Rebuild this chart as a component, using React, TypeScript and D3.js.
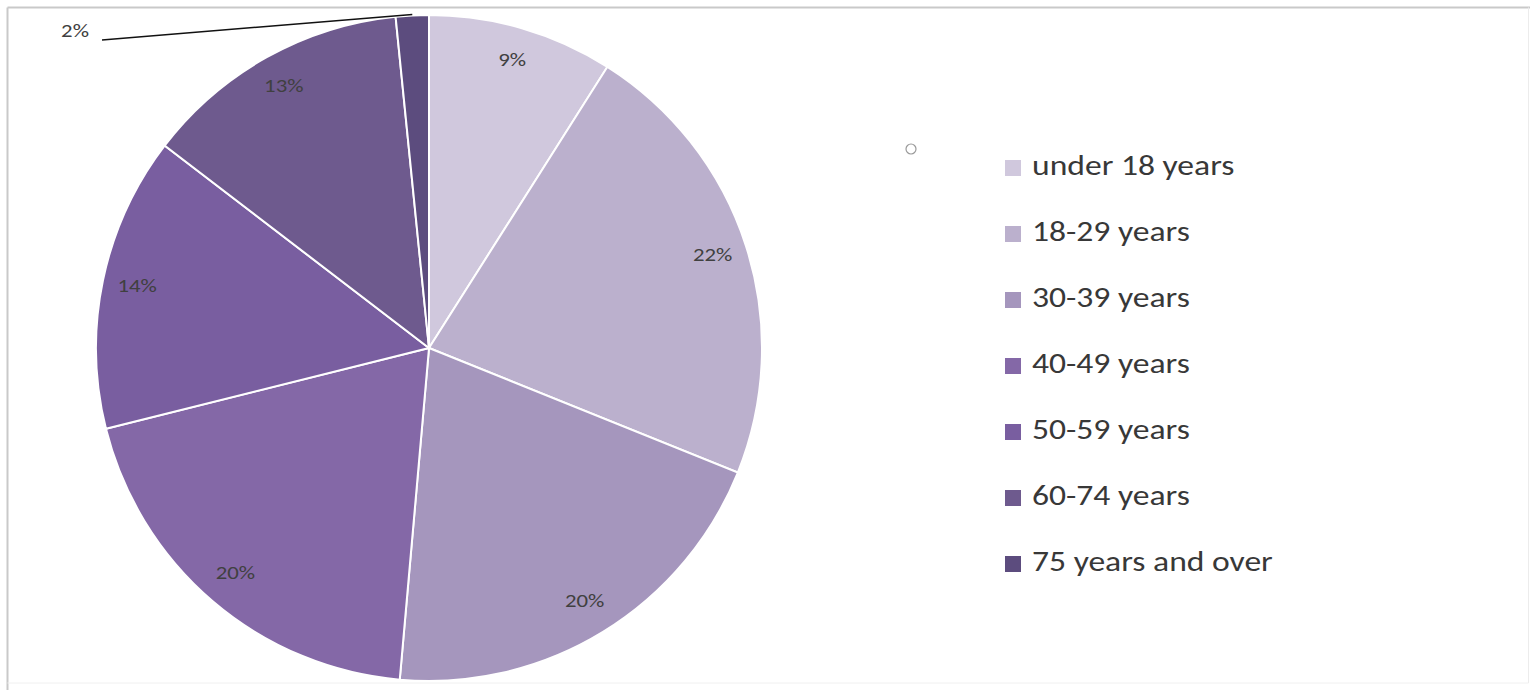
import React from "react";
import * as d3 from "d3";

const categories = [
  "under 18 years",
  "18-29 years",
  "30-39 years",
  "40-49 years",
  "50-59 years",
  "60-74 years",
  "75 years and over",
];
const shares = [9.0, 22.1, 20.3, 19.7, 14.3, 13.0, 1.6];
const colors = ["#d0c8dd", "#bbb0cd", "#a596bd", "#8468a7", "#795ea0", "#6e5a8e", "#5c4c7e"];

const W = 1530;
const H = 690;
const CX = 429;
const CY = 348;
const R = 333;
const LABEL_R = 298;
const FONT = "Carlito, Calibri, 'Open Sans', 'Noto Sans', sans-serif";
const SX = 1.2;

function Label({ x, y, text, size, anchor = "middle", fill = "#404040" }: any) {
  return (
    <text
      transform={`translate(${x},${y}) scale(${SX},1)`}
      textAnchor={anchor}
      dominantBaseline="middle"
      fontFamily={FONT}
      fontSize={size}
      fill={fill}
    >
      {text}
    </text>
  );
}

export default function App() {
  const pie = d3.pie<number>().sort(null).value((d) => d)(shares);
  const arc = d3.arc<d3.PieArcDatum<number>>().innerRadius(0).outerRadius(R);
  const labelArc = d3.arc<d3.PieArcDatum<number>>().innerRadius(LABEL_R).outerRadius(LABEL_R);

  const legendY = d3.scaleBand<string>().domain(categories).range([135, 597]);

  return (
    <svg
      width={W}
      height={H}
      style={{ position: "absolute", left: 0, top: 0, background: "#fff" }}
    >
      <line x1={7.5} y1={7.5} x2={W} y2={7.5} stroke="#c9c9c9" strokeWidth={2} />
      <line x1={7.5} y1={7.5} x2={7.5} y2={H} stroke="#c9c9c9" strokeWidth={2} />
      <line x1={1528.5} y1={7.5} x2={1528.5} y2={683} stroke="#ececec" strokeWidth={1} />
      <line x1={7.5} y1={683} x2={1528.5} y2={683} stroke="#f0f0f0" strokeWidth={1} />
      <g transform={`translate(${CX},${CY})`}>
        {pie.map((p, i) => (
          <path key={i} d={arc(p) || ""} fill={colors[i]} stroke="#ffffff" strokeWidth={2} />
        ))}
        {pie.map((p, i) => {
          const label = `${Math.round(p.data)}%`;
          if (i === pie.length - 1) {
            const mid = (p.startAngle + p.endAngle) / 2;
            const ex = R * Math.sin(mid);
            const ey = -R * Math.cos(mid) - 1;
            const lx = 102 - CX;
            const ly = 40 - CY;
            return (
              <g key={i}>
                <line x1={lx} y1={ly} x2={ex} y2={ey} stroke="#111" strokeWidth={1.5} />
                <Label x={lx - 27} y={ly - 8} text={label} size={19} />
              </g>
            );
          }
          const [x, y] = labelArc.centroid(p);
          return <Label key={i} x={x} y={y} text={label} size={19} />;
        })}
      </g>
      <circle cx={911} cy={149} r={5} fill="#fff" stroke="#9a9a9a" strokeWidth={1.2} />
      {categories.map((c, i) => {
        const y = (legendY(c) || 0) + legendY.bandwidth() / 2;
        return (
          <g key={c}>
            <rect x={1005} y={y - 8} width={16} height={16} fill={colors[i]} />
            <Label x={1032} y={y} text={c} size={28} anchor="start" fill="#383838" />
          </g>
        );
      })}
    </svg>
  );
}
